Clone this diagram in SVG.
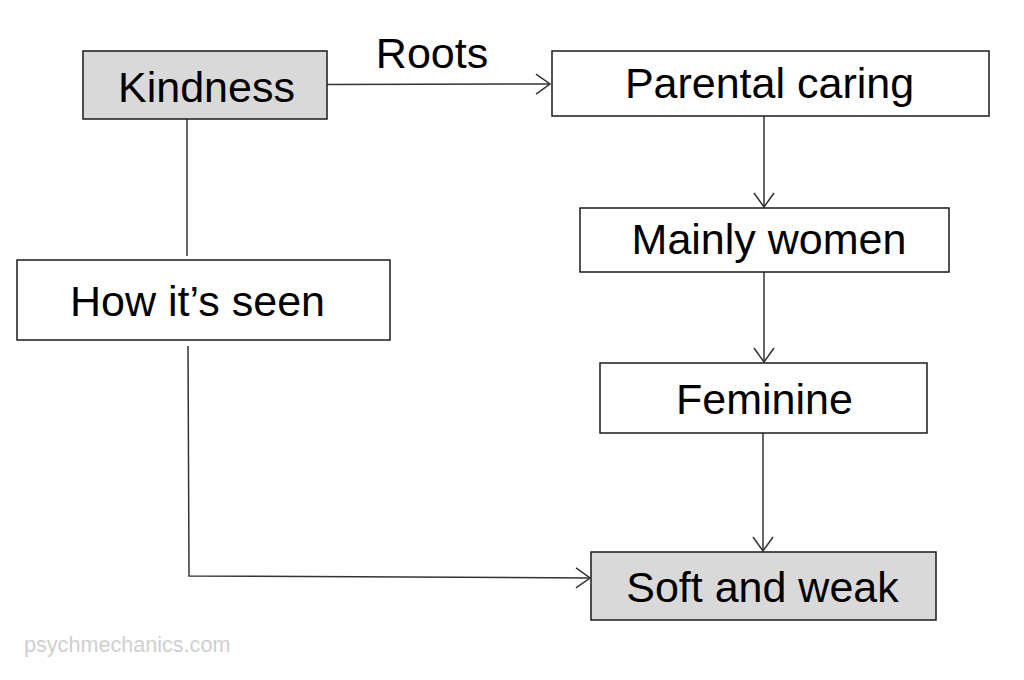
<svg xmlns="http://www.w3.org/2000/svg" width="1024" height="680" viewBox="0 0 1024 680">
<style>
.box{fill:#ffffff;stroke:#1a1a1a;stroke-width:1.5}
.gray{fill:#d9d9d9}
.lbl{font-family:"Liberation Sans",Arial,sans-serif;font-size:43px;fill:#000;text-anchor:middle}
.con{fill:none;stroke:#333;stroke-width:1.5}
</style>
<defs>
<marker id="arr" viewBox="0 0 16 22" refX="15" refY="11" markerWidth="16" markerHeight="22" markerUnits="userSpaceOnUse" orient="auto">
<path d="M1,1 L15,11 L1,21" fill="none" stroke="#333" stroke-width="1.5"/>
</marker>
</defs>
<rect width="1024" height="680" fill="#ffffff"/>
<g id="connectors">
<line class="con" x1="327" y1="84.5" x2="550" y2="84" marker-end="url(#arr)"/>
<text class="lbl" x="432" y="68" font-size="42">Roots</text>
<line class="con" x1="187" y1="119" x2="187" y2="256"/>
<polyline class="con" points="188,346 189,576 590,578" marker-end="url(#arr)"/>
<line class="con" x1="764" y1="116" x2="764" y2="207" marker-end="url(#arr)"/>
<line class="con" x1="764" y1="272" x2="764" y2="362" marker-end="url(#arr)"/>
<line class="con" x1="763" y1="433" x2="763" y2="551" marker-end="url(#arr)"/>
</g>
<g id="kindness">
<rect class="box gray" x="83" y="51" width="244" height="68"/>
<text class="lbl" x="206.5" y="102">Kindness</text>
</g>
<g id="parental-caring">
<rect class="box" x="552" y="51" width="437" height="65"/>
<text class="lbl" x="769.5" y="98">Parental caring</text>
</g>
<g id="mainly-women">
<rect class="box" x="580" y="208" width="369" height="64"/>
<text class="lbl" x="769" y="254">Mainly women</text>
</g>
<g id="feminine">
<rect class="box" x="600" y="363" width="327" height="70"/>
<text class="lbl" x="764.5" y="414">Feminine</text>
</g>
<g id="how-its-seen">
<rect class="box" x="17" y="260" width="373" height="80"/>
<text class="lbl" x="197.5" y="316">How it’s seen</text>
</g>
<g id="soft-and-weak">
<rect class="box gray" x="591" y="552" width="345" height="68"/>
<text class="lbl" x="762.5" y="602">Soft and weak</text>
</g>
<text x="24" y="652" font-family="'Liberation Sans',Arial,sans-serif" font-size="21.6" fill="#cfcfcf">psychmechanics.com</text>
</svg>
